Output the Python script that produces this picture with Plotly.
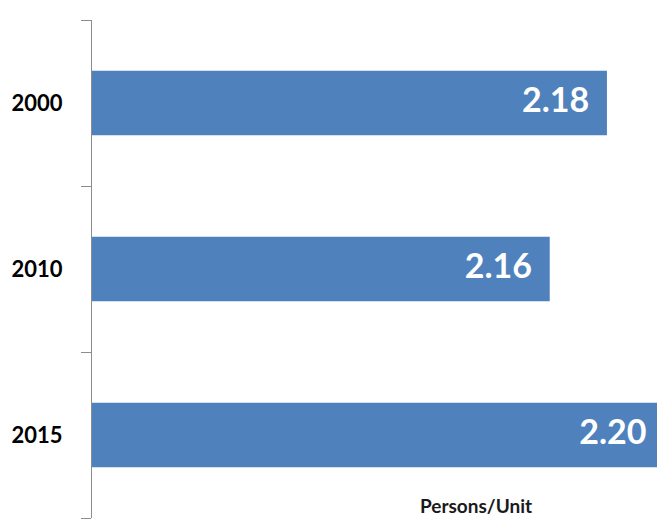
import plotly.graph_objects as go

# Average household size by year
years = ["2000", "2010", "2015"]
persons_per_unit = [2.18, 2.16, 2.20]
value_labels = ["2.18", "2.16", "2.20"]

BAR_COLOR = "#4F81BD"
FONT = "Lato"

# horizontal offset (in axis units) of each value label from its bar end
label_inset = 0.0062

fig = go.Figure()

fig.add_trace(go.Bar(
    y=years,
    x=persons_per_unit,
    base=0,
    orientation="h",
    marker=dict(color=BAR_COLOR, line=dict(width=0)),
    hoverinfo="skip",
    cliponaxis=True,
))

# value labels placed just inside the end of each bar
fig.add_trace(go.Scatter(
    y=years,
    x=[v - label_inset for v in persons_per_unit],
    mode="text",
    text=value_labels,
    textposition="middle left",
    textfont=dict(family=FONT, size=34, color="white", weight="bold"),
    cliponaxis=False,
    hoverinfo="skip",
    showlegend=False,
))

fig.update_layout(
    width=657,
    height=519,
    margin=dict(l=92, r=0, t=20, b=1),
    paper_bgcolor="white",
    plot_bgcolor="white",
    showlegend=False,
    bargap=0.61,
    xaxis=dict(
        range=[2.0, 2.1975],
        visible=False,
        fixedrange=True,
    ),
    yaxis=dict(
        type="category",
        categoryorder="array",
        categoryarray=years[::-1],
        showline=True,
        linecolor="#8c8c8c",
        linewidth=1,
        ticks="outside",
        tickson="boundaries",
        ticklen=10,
        tickcolor="#8c8c8c",
        tickwidth=1,
        showgrid=False,
        zeroline=False,
        tickfont=dict(family=FONT, size=22, color="black", weight="bold"),
        ticklabelstandoff=24,
        fixedrange=True,
    ),
    annotations=[dict(
        text="Persons/Unit",
        xref="paper", yref="paper",
        x=(476 - 92) / 565, y=0.026,
        xanchor="center", yanchor="middle",
        showarrow=False,
        font=dict(family=FONT, size=19, color="#1a1a1a", weight="bold"),
    )],
)

fig.write_html("out.html")
